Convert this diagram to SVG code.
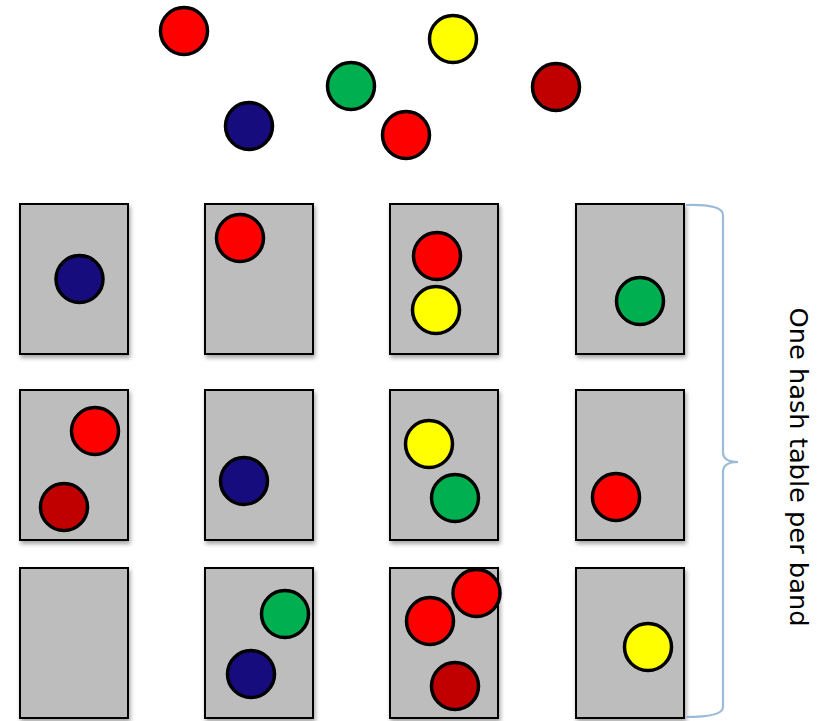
<svg xmlns="http://www.w3.org/2000/svg" width="819" height="721" viewBox="0 0 819 721">
<defs>
<filter id="sh" x="-10%" y="-10%" width="130%" height="130%">
<feDropShadow dx="1.5" dy="3" stdDeviation="2" flood-color="#000" flood-opacity="0.35"/>
</filter>
</defs>
<style>
.box{fill:#BDBDBD;stroke:#000;stroke-width:2;filter:url(#sh)}
.b{stroke:#000;stroke-width:3.5}
.r{fill:#FF0000}.g{fill:#00B050}.y{fill:#FFFF00}.d{fill:#C00000}.n{fill:#170C7E}
.brace{fill:none;stroke:#9BBBD9;stroke-width:2.2}
.lbl{font-family:"DejaVu Sans",Verdana,sans-serif;font-size:25.5px;fill:#000}
</style>
<rect width="819" height="721" fill="#fff"/>
<g id="loose">
<circle class="b r" cx="184" cy="31" r="23.5"/>
<circle class="b g" cx="351" cy="86" r="23.5"/>
<circle class="b y" cx="453" cy="39" r="23.5"/>
<circle class="b d" cx="556" cy="87" r="23.5"/>
<circle class="b n" cx="249" cy="126" r="23.5"/>
<circle class="b r" cx="406" cy="135" r="23.5"/>
</g>
<g id="t11"><rect class="box" x="20" y="204" width="108" height="150"/><circle class="b n" cx="79.5" cy="279" r="23.5"/></g>
<g id="t12"><rect class="box" x="205" y="204" width="108" height="150"/><circle class="b r" cx="240" cy="238" r="23.5"/></g>
<g id="t13"><rect class="box" x="390" y="204" width="108" height="150"/><circle class="b r" cx="437" cy="256" r="23.5"/><circle class="b y" cx="436" cy="310" r="23.5"/></g>
<g id="t14"><rect class="box" x="576" y="204" width="108" height="150"/><circle class="b g" cx="640" cy="301" r="23.5"/></g>
<g id="t21"><rect class="box" x="20" y="390" width="108" height="150"/><circle class="b r" cx="95" cy="431" r="23.5"/><circle class="b d" cx="64" cy="507" r="23.5"/></g>
<g id="t22"><rect class="box" x="205" y="390" width="108" height="150"/><circle class="b n" cx="244" cy="481" r="23.5"/></g>
<g id="t23"><rect class="box" x="390" y="390" width="108" height="150"/><circle class="b y" cx="429" cy="444" r="23.5"/><circle class="b g" cx="455" cy="498" r="23.5"/></g>
<g id="t24"><rect class="box" x="576" y="390" width="108" height="150"/><circle class="b r" cx="616" cy="497" r="23.5"/></g>
<g id="t31"><rect class="box" x="20" y="568" width="108" height="150"/></g>
<g id="t32"><rect class="box" x="205" y="568" width="108" height="150"/><circle class="b g" cx="285" cy="614" r="23.5"/><circle class="b n" cx="251" cy="674" r="23.5"/></g>
<g id="t33"><rect class="box" x="390" y="568" width="108" height="150"/><circle class="b r" cx="430" cy="621" r="23.5"/><circle class="b r" cx="476.5" cy="593" r="23.5"/><circle class="b d" cx="455" cy="686" r="23.5"/></g>
<g id="t34"><rect class="box" x="576" y="568" width="108" height="150"/><circle class="b y" cx="648" cy="647" r="23.5"/></g>
<g id="connectors">
<path class="brace" d="M686,205 Q723,204 723,215 L723,452 Q723,462 738,462 Q723,462 723,472 L723,707 Q723,717 686,717"/>
</g>
<g id="label">
<text class="lbl" transform="translate(790,467) rotate(90)" text-anchor="middle" textLength="319" lengthAdjust="spacingAndGlyphs">One hash table per band</text>
</g>
</svg>
